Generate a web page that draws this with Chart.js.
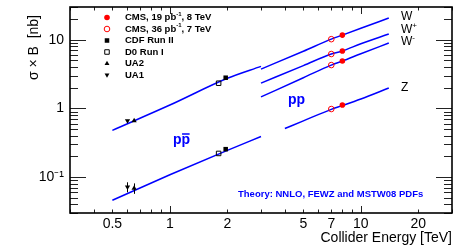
<!DOCTYPE html>
<html>
<head>
<meta charset="utf-8">
<script src="https://cdn.jsdelivr.net/npm/chart.js@4/dist/chart.umd.min.js"></script>
<style>
    body { margin: 0; background: #fff; }
    canvas { display: block; }
</style>
</head>
<body>
<canvas id="xsec" width="457" height="252"></canvas>
<script>
const FONT = "'Liberation Sans', Arial, Helvetica, sans-serif"
const BLUE = "#0000ff"
const RED = "#ff0000"

// theory curves (NNLO)
const ppbarEnergy = [0.5, 1, 2, 3]
const ppbarW = [0.48, 1.12, 2.75, 4.1]
const ppbarZ = [0.046, 0.108, 0.245, 0.39]

const ppEnergy = [3, 5, 7, 8, 10, 14]
const ppW = [3.74, 6.8, 10.2, 11.7, 14.7, 20.7]
const ppWplus = [2.34, 4.2, 6.19, 6.85, 8.75, 12.1]
const ppWminus = [1.47, 2.8, 4.28, 4.9, 6.27, 8.95]
const ppZEnergy = [4, 5, 7, 8, 10, 14]
const ppZ = [0.51, 0.66, 0.97, 1.1, 1.37, 1.98]

// measurements: CMS is [W, W+, W-, Z], the others [W, Z]
const cms8Energy = 8
const cms8 = [11.7, 6.85, 4.9, 1.12]
const cms7Energy = 7
const cms7 = [10.2, 6.2, 4.28, 0.98]
const cdfEnergy = 1.96
const cdf = [2.8, 0.255]
const d0Energy = 1.8
const d0 = [2.33, 0.221]
const ua2Energy = 0.65
const ua2 = [0.66, 0.069]
const ua2Err = [0.02, 0.012]
const ua1Energy = 0.6
const ua1 = [0.66, 0.072]
const ua1Err = [0.02, 0.012]

const xTicks = [0.5, 1, 2, 5, 7, 10, 20]
const yTicks = [0.1, 1, 10]
const yTickLabels = ["10\u207b\u00b9", "1", "10"]

const legendRows = [
    { style: "circle", fill: RED, stroke: RED, text: ["CMS, 19 pb", "-1", ", 8 TeV"] },
    { style: "circle", fill: "rgba(0,0,0,0)", stroke: RED, text: ["CMS, 36 pb", "-1", ", 7 TeV"] },
    { style: "rect", fill: "#000", stroke: "#000", text: ["CDF Run II"] },
    { style: "rect", fill: "rgba(0,0,0,0)", stroke: "#000", text: ["D0 Run I"] },
    { style: "triangle", fill: "#000", stroke: "#000", text: ["UA2"] },
    { style: "triangle", rotation: 180, fill: "#000", stroke: "#000", text: ["UA1"] },
]

const pts = (xs, ys) => xs.map((x, i) => ({ x: x, y: ys[i] }))
const at = (e, ys) => ys.map(y => ({ x: e, y: y }))

function theory(xs, ys) {
    return {
        data: pts(xs, ys),
        showLine: true,
        borderColor: BLUE,
        borderWidth: 1.5,
        pointRadius: 0,
        cubicInterpolationMode: "monotone",
        order: 1,
    }
}

function marker(data, style, fill, stroke, radius, rotation) {
    return {
        data: data,
        pointStyle: style,
        pointRadius: radius,
        pointRotation: rotation || 0,
        backgroundColor: fill,
        borderColor: stroke,
        borderWidth: fill === stroke ? 0 : 1,
        order: 0,
    }
}

function logSteps(min, max) {
    let out = []
    for (let e = Math.floor(Math.log10(min)); e <= Math.ceil(Math.log10(max)); e++) {
        for (let k = 1; k <= 9; k++) {
            const v = k * Math.pow(10, e)
            if (v >= min * 0.999 && v <= max * 1.001) out.push({ v: v, major: k === 1 })
        }
    }
    return out
}

function drawMark(ctx, row, x, y) {
    ctx.fillStyle = row.fill
    ctx.strokeStyle = row.stroke
    ctx.lineWidth = 1
    const opts = { pointStyle: row.style, rotation: row.rotation || 0, radius: row.style === "rect" ? 3.2 : 2.8, borderWidth: row.fill === row.stroke ? 0 : 1 }
    if (Chart.helpers && Chart.helpers.drawPoint) {
        Chart.helpers.drawPoint(ctx, opts, x, y)
    } else {
        ctx.beginPath()
        ctx.arc(x, y, opts.radius, 0, Math.PI * 2)
        ctx.fill()
        ctx.stroke()
    }
}

// text with a raised part, [base, sup, rest]
function supText(ctx, parts, x, y, size, bold) {
    const w = bold ? "bold " : ""
    ctx.font = `${w}${size}px ${FONT}`
    ctx.fillText(parts[0], x, y)
    x += ctx.measureText(parts[0]).width
    if (parts.length > 1) {
        ctx.font = `${w}${Math.round(size * 0.65)}px ${FONT}`
        ctx.fillText(parts[1], x, y - size * 0.38)
        x += ctx.measureText(parts[1]).width
        ctx.font = `${w}${size}px ${FONT}`
        if (parts[2]) ctx.fillText(parts[2], x, y)
    }
}

const rootStyle = {
    id: "rootStyle",
    afterDatasetsDraw(chart) {
        const { ctx, chartArea: a, scales: { x, y } } = chart
        ctx.save()

        // error bars on the UA points
        ctx.strokeStyle = "#000"
        ctx.lineWidth = 1
        ;[[ua1Energy, ua1, ua1Err], [ua2Energy, ua2, ua2Err]].forEach(([e, vals, errs]) => {
            const px = Math.round(x.getPixelForValue(e)) + 0.5
            vals.forEach((v, i) => {
                ctx.beginPath()
                ctx.moveTo(px, y.getPixelForValue(v - errs[i]))
                ctx.lineTo(px, y.getPixelForValue(v + errs[i]))
                ctx.stroke()
            })
        })

        // inside ticks on all four sides
        ctx.strokeStyle = "#222"
        ctx.lineWidth = 1
        logSteps(y.min, y.max).forEach(t => {
            const py = Math.round(y.getPixelForValue(t.v)) + 0.5
            const len = t.major ? 16 : 8
            ctx.beginPath()
            ctx.moveTo(a.left, py)
            ctx.lineTo(a.left + len, py)
            ctx.moveTo(a.right, py)
            ctx.lineTo(a.right - len, py)
            ctx.stroke()
        })
        logSteps(x.min, x.max).forEach(t => {
            const px = Math.round(x.getPixelForValue(t.v)) + 0.5
            const len = t.major ? 7 : 3.5
            ctx.beginPath()
            ctx.moveTo(px, a.bottom)
            ctx.lineTo(px, a.bottom - len)
            ctx.moveTo(px, a.top)
            ctx.lineTo(px, a.top + len)
            ctx.stroke()
        })

        // frame
        ctx.strokeStyle = "#000"
        ctx.lineWidth = 1.6
        ctx.strokeRect(a.left, a.top, a.right - a.left, a.bottom - a.top)

        // axis titles
        ctx.fillStyle = "#000"
        ctx.font = `14px ${FONT}`
        ctx.textAlign = "right"
        ctx.textBaseline = "alphabetic"
        ctx.fillText("Collider Energy [TeV]", a.right, 242)
        ctx.save()
        ctx.translate(38, 15)
        ctx.rotate(-Math.PI / 2)
        ctx.fillText("\u03c3 \u00d7 B  [nb]", 0, 0)
        ctx.restore()

        // curve labels
        ctx.textAlign = "left"
        supText(ctx, ["W"], 401, 20, 12, false)
        supText(ctx, ["W", "+"], 401, 33, 12, false)
        supText(ctx, ["W", "-"], 401, 45, 12, false)
        supText(ctx, ["Z"], 401, 91, 12, false)

        ctx.fillStyle = BLUE
        ctx.font = `bold 14px ${FONT}`
        ctx.fillText("pp", 288, 104)
        ctx.fillText("pp", 173, 144)
        const pw = ctx.measureText("p").width
        ctx.strokeStyle = BLUE
        ctx.lineWidth = 1.5
        ctx.beginPath()
        ctx.moveTo(173 + pw + 0.5, 134)
        ctx.lineTo(173 + 2 * pw - 0.5, 134)
        ctx.stroke()

        ctx.font = `bold 9.5px ${FONT}`
        ctx.fillText("Theory: NNLO, FEWZ and MSTW08 PDFs", 238, 196.5)

        // legend
        legendRows.forEach((row, i) => {
            const ry = 17.5 + i * 11.5
            drawMark(ctx, row, 107, ry)
            ctx.fillStyle = "#000"
            ctx.textBaseline = "middle"
            supText(ctx, row.text, 125, ry, 9.5, true)
        })

        ctx.restore()
    },
}

new Chart("xsec", {
    type: "scatter",
    data: {
        datasets: [
            marker(at(cms8Energy, cms8), "circle", RED, RED, 2.8),
            marker(at(cms7Energy, cms7), "circle", "rgba(0,0,0,0)", RED, 2.8),
            marker(at(cdfEnergy, cdf), "rect", "#000", "#000", 3.2),
            marker(at(d0Energy, d0), "rect", "rgba(0,0,0,0)", "#000", 3.2),
            marker(at(ua2Energy, ua2), "triangle", "#000", "#000", 3),
            marker(at(ua1Energy, ua1), "triangle", "#000", "#000", 3, 180),
            theory(ppbarEnergy, ppbarW),
            theory(ppbarEnergy, ppbarZ),
            theory(ppEnergy, ppW),
            theory(ppEnergy, ppWplus),
            theory(ppEnergy, ppWminus),
            theory(ppZEnergy, ppZ),
        ],
    },
    options: {
        responsive: false,
        animation: false,
        devicePixelRatio: 1,
        layout: { padding: { top: 7, right: 4, left: 0, bottom: 0 } },
        plugins: {
            legend: { display: false },
            tooltip: { enabled: false },
        },
        scales: {
            x: {
                type: "logarithmic",
                min: 0.3,
                max: 30,
                afterBuildTicks: s => { s.ticks = xTicks.map(v => ({ value: v })) },
                afterFit: s => {
                    s.height = 39
                    s.paddingLeft = 0
                    s.paddingRight = 0
                },
                grid: { display: false, drawTicks: false },
                border: { display: false },
                ticks: {
                    autoSkip: false,
                    maxRotation: 0,
                    padding: 3,
                    color: "#000",
                    font: { family: FONT, size: 14 },
                    callback: (v, i) => String(xTicks[i]),
                },
            },
            y: {
                type: "logarithmic",
                min: 0.03,
                max: 30,
                afterBuildTicks: s => { s.ticks = yTicks.map(v => ({ value: v })) },
                afterFit: s => {
                    s.width = 70
                    s.paddingTop = 0
                    s.paddingBottom = 0
                },
                grid: { display: false, drawTicks: false },
                border: { display: false },
                ticks: {
                    autoSkip: false,
                    padding: 6,
                    color: "#000",
                    font: { family: FONT, size: 14 },
                    callback: (v, i) => yTickLabels[i],
                },
            },
        },
    },
    plugins: [rootStyle],
})
</script>
</body>
</html>
